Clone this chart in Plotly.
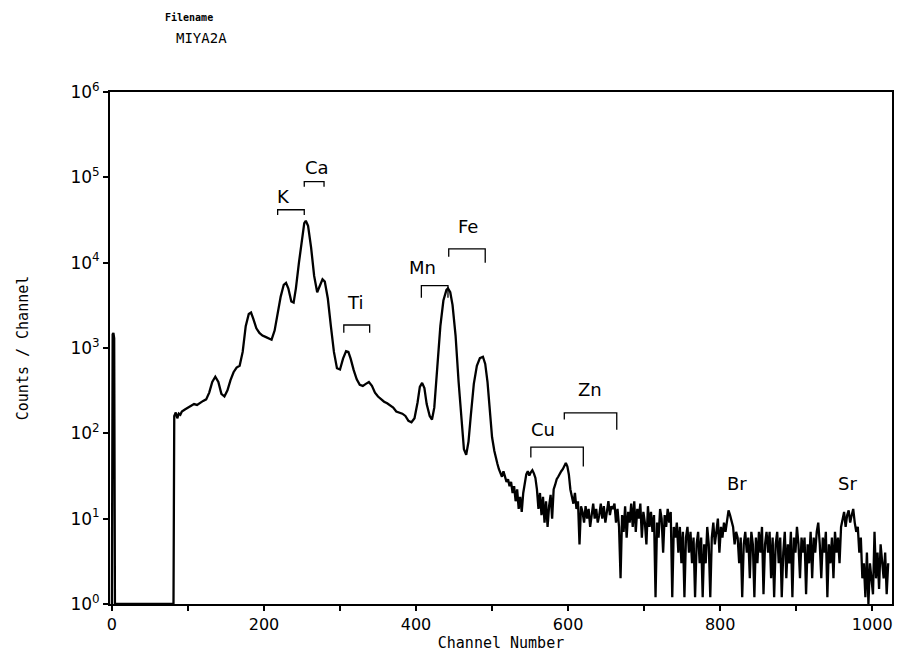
import math
import plotly.graph_objects as go

# ---------------- data ----------------
# smooth part of the spectrum (channel, counts)
channels_low = [0, 1, 2, 3, 4, 5, 40, 81,
                82, 84, 86, 88, 90, 92, 96, 100, 104, 108, 112, 116, 120, 124, 128, 132, 136, 140,
                144, 148, 152, 156, 160, 164, 168, 172, 176, 180, 183, 186, 190, 194, 198, 202, 206,
                210, 214, 218, 222, 226, 229, 232, 236, 239, 242, 246, 250, 253, 255, 258, 262, 266,
                270, 274, 277, 280, 284, 288, 292, 296, 300, 304, 308, 311, 314, 318, 322, 326, 330,
                334, 338, 342, 346, 350, 354, 358, 362, 366, 370, 374, 378, 382, 386, 390, 394, 398,
                402, 405, 408, 411, 414, 418, 421, 424, 428, 432, 436, 440, 442, 445, 448, 452, 456,
                460, 463, 466, 469, 472, 476, 480, 484, 488, 491, 494, 497, 500]
counts_low = [1, 1450, 1500, 1300, 1, 1, 1, 1,
              160, 175, 150, 170, 165, 180, 190, 200, 210, 220, 215, 230, 240, 250, 300, 400, 460, 400,
              290, 270, 320, 420, 520, 590, 620, 900, 1800, 2500, 2600, 2200, 1700, 1500, 1400, 1350, 1300,
              1250, 1600, 2500, 4000, 5500, 5800, 5000, 3500, 3400, 5000, 10000, 20000, 29000, 31000, 27000, 15000, 7000,
              4500, 5500, 6400, 6000, 3800, 1800, 900, 580, 560, 750, 920, 900, 750, 550, 430, 370, 360,
              380, 400, 360, 300, 270, 250, 235, 225, 210, 200, 180, 175, 170, 160, 140, 135, 150,
              230, 350, 390, 340, 220, 160, 145, 200, 600, 1800, 3600, 4800, 5000, 4500, 3200, 1400, 400,
              120, 65, 56, 80, 160, 380, 620, 760, 790, 650, 400, 180, 90]

# noisy high-channel part: channels 503, 505, ..., 1021
channels_high = list(range(503, 1022, 2))
counts_high = [
    62, 50, 44, 38, 35, 31, 36, 30, 27, 29,
    24, 27, 20, 24, 16, 22, 13, 18, 12, 20,
    26, 33, 36, 32, 35, 37, 34, 30, 22, 13,
    20, 11, 18, 9, 16, 8, 14, 19, 10, 22,
    25, 29, 31, 34, 36, 38, 42, 45, 41, 33,
    22, 18, 15, 20, 13, 16, 5, 14, 12, 9,
    14, 10, 13, 8, 12, 15, 10, 13, 9, 11,
    15, 10, 14, 9, 12, 16, 11, 14, 13, 15,
    9, 13, 8, 2, 11, 7, 14, 6, 12, 9,
    15, 8, 16, 7, 13, 10, 15, 6, 12, 9,
    5, 14, 8, 12, 7, 11, 1.2, 9, 6, 13,
    10, 4, 11, 8, 13, 9, 12, 1.2, 8, 6,
    9, 4, 8, 3, 7, 1.2, 6, 8, 4, 7,
    3, 6, 1.2, 5, 7, 3, 6, 1.2, 5, 3,
    8, 5, 1.2, 6, 9, 5, 7, 10, 4, 8,
    6, 9, 7, 10, 12.5, 11, 9, 8, 5, 7,
    6, 3, 6, 1.2, 5, 7, 4, 6, 2, 7,
    5, 1.2, 6, 3, 7, 4, 8, 1.3, 5, 7,
    4, 7, 2, 6, 1.2, 5, 7, 3, 6, 1.2,
    4, 7, 2, 5, 3, 7, 1.2, 6, 4, 8,
    5, 2, 6, 4, 6, 1.3, 5, 3, 7, 2,
    6, 4, 7, 9, 5, 2, 6, 4, 7, 1.2,
    5, 3, 6, 2, 7, 4, 6, 3, 8, 10,
    12, 8, 11, 12.5, 9, 11, 13, 9, 7, 8,
    4, 6, 2, 3, 1.2, 4, 1, 3, 2, 1.3,
    7, 2, 4, 1.5, 5, 3, 2, 4, 1.3, 3]

# element labels: name, label channel, label height (counts)
label_names = ["K", "Ca", "Ti", "Mn", "Fe", "Cu", "Zn", "Br", "Sr"]
label_chan = [226, 270, 320, 409, 468, 567, 629, 822, 968]
label_count = [58900, 129000, 3390, 8700, 26300, 110, 324, 26, 26]

# brackets: left channel, right channel, top, left foot, right foot (counts)
bracket_names = ["K", "Ca", "Ti", "Mn", "Fe", "Cu", "Zn"]
bracket_left = [218, 253, 305, 407, 443, 551, 595]
bracket_right = [253, 279, 339, 442, 491, 620, 664]
bracket_top = [41700, 89100, 1860, 5370, 14500, 69, 174]
bracket_lfoot = [36300, 77600, 1510, 3890, 11700, 52, 145]
bracket_rfoot = [36300, 77600, 1510, 3890, 10000, 41, 110]

x_tickvals = [0, 100, 200, 300, 400, 500, 600, 700, 800, 900, 1000]
x_ticktext = ["0", "", "200", "", "400", "", "600", "", "800", "", "1000"]
y_tickvals = [1, 10, 100, 1000, 10000, 100000, 1000000]
y_ticktext = ["10<sup>0</sup>", "10<sup>1</sup>", "10<sup>2</sup>", "10<sup>3</sup>",
              "10<sup>4</sup>", "10<sup>5</sup>", "10<sup>6</sup>"]

# ---------------- figure ----------------
fig = go.Figure()
fig.add_trace(go.Scatter(x=channels_low + channels_high, y=counts_low + counts_high,
                         mode="lines", line=dict(color="black", width=2.3),
                         showlegend=False, hoverinfo="skip"))

for i in range(len(bracket_names)):
    fig.add_trace(go.Scatter(
        x=[bracket_left[i], bracket_left[i], bracket_right[i], bracket_right[i]],
        y=[bracket_lfoot[i], bracket_top[i], bracket_top[i], bracket_rfoot[i]],
        mode="lines", line=dict(color="black", width=1.3),
        showlegend=False, hoverinfo="skip"))

annotations = []
for n, c, v in zip(label_names, label_chan, label_count):
    annotations.append(dict(x=c, y=math.log10(v), xref="x", yref="y", text=n,
                            showarrow=False, xanchor="center", yanchor="middle",
                            font=dict(family="DejaVu Sans", size=18, color="black")))

L, R, T, B = 110, 7, 92, 48
W, H = 899, 652
pw, ph = W - L - R, H - T - B

header = [("<b>Filename</b>", 189, 17, 10), ("MIYA2A", 201, 38, 14)]
for text, px, py, size in header:
    annotations.append(dict(x=(px - L) / pw, y=(H - B - py) / ph,
                            xref="paper", yref="paper", text=text, showarrow=False,
                            xanchor="center", yanchor="middle",
                            font=dict(family="DejaVu Sans Mono", size=size, color="black")))

fig.update_layout(
    width=W, height=H,
    margin=dict(l=L, r=R, t=T, b=B, autoexpand=False),
    paper_bgcolor="white", plot_bgcolor="white",
    annotations=annotations,
    xaxis=dict(range=[-2.5, 1026], tickvals=x_tickvals, ticktext=x_ticktext,
               ticks="outside", ticklen=5, tickwidth=1.5, tickcolor="black",
               showline=True, linecolor="black", linewidth=2, mirror=True,
               showgrid=False, zeroline=False, automargin=False,
               tickfont=dict(family="DejaVu Sans", size=16, color="black"),
               title=dict(text="Channel Number", standoff=0,
                          font=dict(family="DejaVu Sans Mono", size=15, color="black"))),
    yaxis=dict(type="log", range=[0, 6], tickvals=y_tickvals, ticktext=y_ticktext,
               ticks="outside", ticklen=5, tickwidth=1.5, tickcolor="black",
               showline=True, linecolor="black", linewidth=2, mirror=True,
               showgrid=False, zeroline=False, automargin=False,
               tickfont=dict(family="DejaVu Sans", size=17, color="black"),
               title=dict(text="Counts / Channel", standoff=38,
                          font=dict(family="DejaVu Sans Mono", size=15, color="black"))),
)

fig.write_html("out.html", config={"displayModeBar": False},
               post_script="document.body.style.margin='0';document.body.style.overflow='hidden';")
